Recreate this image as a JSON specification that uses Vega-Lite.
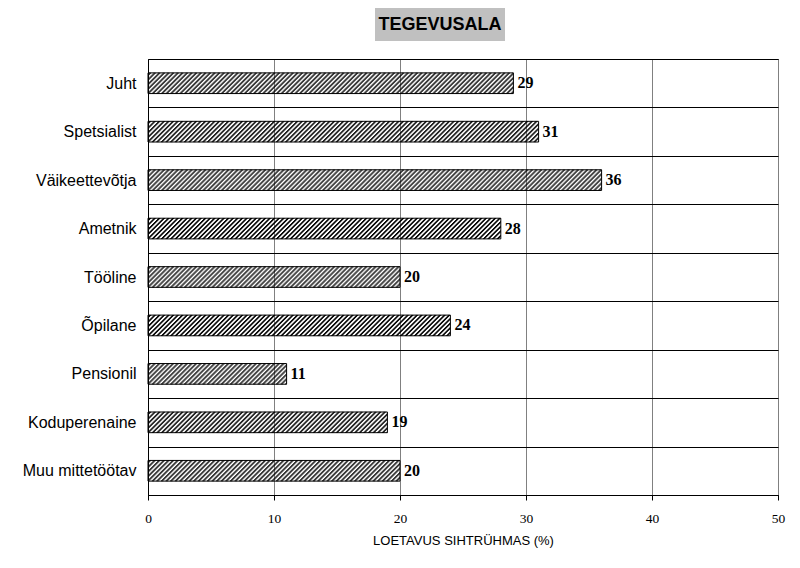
{
  "$schema": "https://vega.github.io/schema/vega-lite/v6.json",
  "background": "white",
  "padding": {"left": 21, "top": 8, "right": 5, "bottom": 5},
  "spacing": 9,
  "config": {"view": {"stroke": "#000", "strokeWidth": 1}, "font": "Liberation Sans"},
  "vconcat": [
    {
      "hconcat": [
        {
          "width": 227,
          "height": 33,
          "view": {"stroke": null, "fill": null},
          "data": {"values": [{"s": ""}]},
          "mark": {"type": "text"},
          "encoding": {"text": {"field": "s"}}
        },
        {
          "width": 130,
          "height": 33,
          "view": {"fill": "#C0C0C0", "stroke": null},
          "data": {"values": [{"t": "TEGEVUSALA"}]},
          "mark": {"type": "text", "font": "Liberation Sans", "fontSize": 18, "fontWeight": "bold", "color": "#000", "baseline": "middle", "align": "center"},
          "encoding": {"text": {"field": "t"}}
        }
      ],
      "spacing": 0
    },
    {
      "width": 630,
      "height": 436,
      "data": {"values": [
        {"cat": "Juht", "v": 29},
        {"cat": "Spetsialist", "v": 31},
        {"cat": "Väikeettevõtja", "v": 36},
        {"cat": "Ametnik", "v": 28},
        {"cat": "Tööline", "v": 20},
        {"cat": "Õpilane", "v": 24},
        {"cat": "Pensionil", "v": 11},
        {"cat": "Koduperenaine", "v": 19},
        {"cat": "Muu mittetöötav", "v": 20}
      ]},
      "encoding": {
        "y": {"field": "cat", "type": "nominal", "sort": null,
          "scale": {"paddingInner": 0, "paddingOuter": 0},
          "axis": {"title": null, "ticks": false, "tickBand": "extent", "grid": true, "gridColor": "#000", "gridOpacity": 1, "gridWidth": 1, "domainColor": "#000", "labelFont": "Liberation Sans", "labelFontSize": 16, "labelColor": "#000", "labelPadding": 12, "labelLimit": 0}},
        "x": {"field": "v", "type": "quantitative", "scale": {"domain": [0, 50]},
          "axis": {"title": "LOETAVUS SIHTRÜHMAS (%)", "values": [0, 10, 20, 30, 40, 50], "grid": true, "gridColor": "#808080", "gridOpacity": 1, "domainColor": "#000", "tickColor": "#000", "tickSize": 5, "labelFont": "Liberation Serif", "labelFontSize": 13.5, "labelColor": "#000", "labelPadding": 11, "labelFlush": false, "titleFont": "Liberation Sans", "titleFontSize": 13, "titleFontWeight": "normal", "titleColor": "#000", "titlePadding": 10}}
      },
      "layer": [
        {
          "encoding": {"x": {"datum": 0, "type": "quantitative", "title": "LOETAVUS SIHTRÜHMAS (%)"}, "x2": {"field": "v"}},
          "layer": [
            {"mark": {"type": "rule", "color": "#000", "strokeWidth": 1, "strokeDash": [2.3, 2.3], "strokeDashOffset": -10, "yOffset": -10}, "encoding": {}},
            {"mark": {"type": "rule", "color": "#000", "strokeWidth": 1, "strokeDash": [2.3, 2.3], "strokeDashOffset": -9, "yOffset": -9}, "encoding": {}},
            {"mark": {"type": "rule", "color": "#000", "strokeWidth": 1, "strokeDash": [2.3, 2.3], "strokeDashOffset": -8, "yOffset": -8}, "encoding": {}},
            {"mark": {"type": "rule", "color": "#000", "strokeWidth": 1, "strokeDash": [2.3, 2.3], "strokeDashOffset": -7, "yOffset": -7}, "encoding": {}},
            {"mark": {"type": "rule", "color": "#000", "strokeWidth": 1, "strokeDash": [2.3, 2.3], "strokeDashOffset": -6, "yOffset": -6}, "encoding": {}},
            {"mark": {"type": "rule", "color": "#000", "strokeWidth": 1, "strokeDash": [2.3, 2.3], "strokeDashOffset": -5, "yOffset": -5}, "encoding": {}},
            {"mark": {"type": "rule", "color": "#000", "strokeWidth": 1, "strokeDash": [2.3, 2.3], "strokeDashOffset": -4, "yOffset": -4}, "encoding": {}},
            {"mark": {"type": "rule", "color": "#000", "strokeWidth": 1, "strokeDash": [2.3, 2.3], "strokeDashOffset": -3, "yOffset": -3}, "encoding": {}},
            {"mark": {"type": "rule", "color": "#000", "strokeWidth": 1, "strokeDash": [2.3, 2.3], "strokeDashOffset": -2, "yOffset": -2}, "encoding": {}},
            {"mark": {"type": "rule", "color": "#000", "strokeWidth": 1, "strokeDash": [2.3, 2.3], "strokeDashOffset": -1, "yOffset": -1}, "encoding": {}},
            {"mark": {"type": "rule", "color": "#000", "strokeWidth": 1, "strokeDash": [2.3, 2.3], "strokeDashOffset": 0, "yOffset": 0}, "encoding": {}},
            {"mark": {"type": "rule", "color": "#000", "strokeWidth": 1, "strokeDash": [2.3, 2.3], "strokeDashOffset": 1, "yOffset": 1}, "encoding": {}},
            {"mark": {"type": "rule", "color": "#000", "strokeWidth": 1, "strokeDash": [2.3, 2.3], "strokeDashOffset": 2, "yOffset": 2}, "encoding": {}},
            {"mark": {"type": "rule", "color": "#000", "strokeWidth": 1, "strokeDash": [2.3, 2.3], "strokeDashOffset": 3, "yOffset": 3}, "encoding": {}},
            {"mark": {"type": "rule", "color": "#000", "strokeWidth": 1, "strokeDash": [2.3, 2.3], "strokeDashOffset": 4, "yOffset": 4}, "encoding": {}},
            {"mark": {"type": "rule", "color": "#000", "strokeWidth": 1, "strokeDash": [2.3, 2.3], "strokeDashOffset": 5, "yOffset": 5}, "encoding": {}},
            {"mark": {"type": "rule", "color": "#000", "strokeWidth": 1, "strokeDash": [2.3, 2.3], "strokeDashOffset": 6, "yOffset": 6}, "encoding": {}},
            {"mark": {"type": "rule", "color": "#000", "strokeWidth": 1, "strokeDash": [2.3, 2.3], "strokeDashOffset": 7, "yOffset": 7}, "encoding": {}},
            {"mark": {"type": "rule", "color": "#000", "strokeWidth": 1, "strokeDash": [2.3, 2.3], "strokeDashOffset": 8, "yOffset": 8}, "encoding": {}},
            {"mark": {"type": "rule", "color": "#000", "strokeWidth": 1, "strokeDash": [2.3, 2.3], "strokeDashOffset": 9, "yOffset": 9}, "encoding": {}},
            {"mark": {"type": "rule", "color": "#000", "strokeWidth": 1, "strokeDash": [2.3, 2.3], "strokeDashOffset": 10, "yOffset": 10}, "encoding": {}}
          ]
        },
        {"mark": {"type": "bar", "fillOpacity": 0, "stroke": "#000", "strokeWidth": 1, "height": {"band": 0.427}}},
        {"mark": {"type": "text", "font": "Liberation Serif", "fontWeight": "bold", "fontSize": 16, "align": "left", "baseline": "middle", "dx": 4, "color": "#000"},
         "encoding": {"text": {"field": "v"}}}
      ]
    }
  ]
}
